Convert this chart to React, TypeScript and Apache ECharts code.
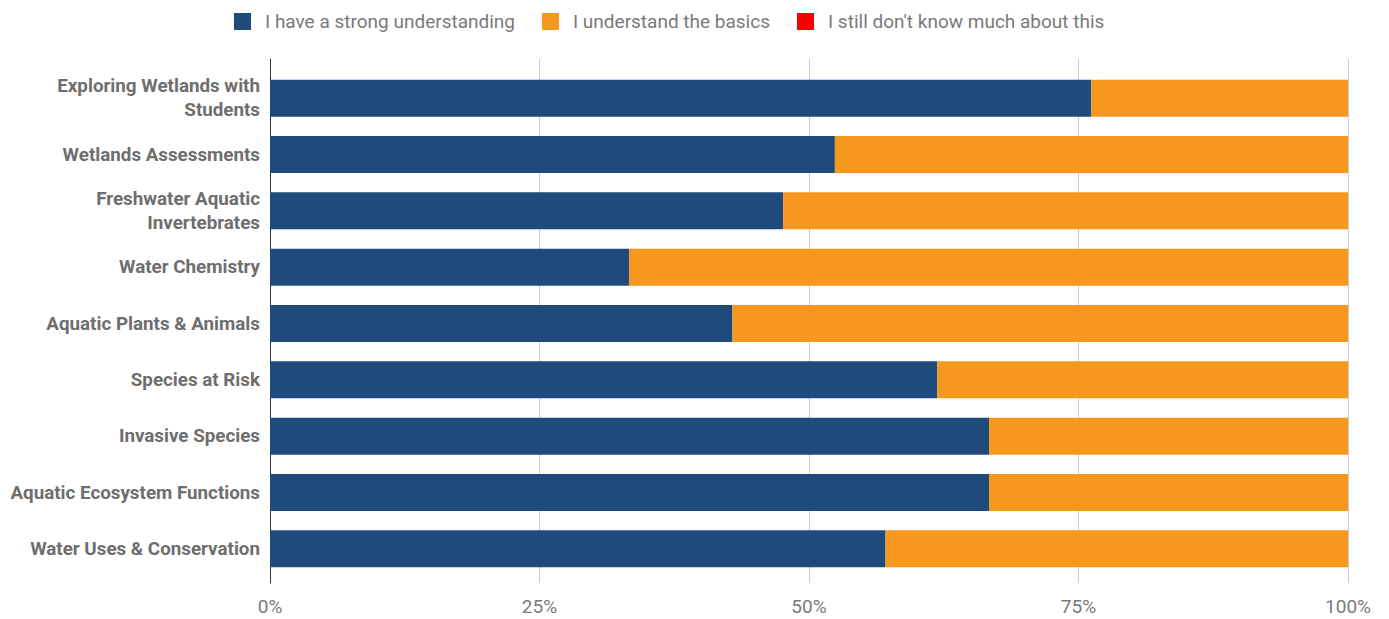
import React, { useEffect, useRef } from "react";
import * as echarts from "echarts";

const categories = [
  "Exploring Wetlands with\nStudents",
  "Wetlands Assessments",
  "Freshwater Aquatic\nInvertebrates",
  "Water Chemistry",
  "Aquatic Plants & Animals",
  "Species at Risk",
  "Invasive Species",
  "Aquatic Ecosystem Functions",
  "Water Uses & Conservation",
];
const seriesNames = [
  "I have a strong understanding",
  "I understand the basics",
  "I still don't know much about this",
];
// shares (percent)
const strong = [76.2, 52.4, 47.6, 33.3, 42.9, 61.9, 66.7, 66.7, 57.1];
const basics = [23.8, 47.6, 52.4, 66.7, 57.1, 38.1, 33.3, 33.3, 42.9];
const notMuch = [0, 0, 0, 0, 0, 0, 0, 0, 0];
const tickValues = [0, 25, 50, 75, 100];
const colors = ["#1f4a7c", "#f6981d", "#f90000"];

export default function App() {
  const ref = useRef<HTMLDivElement>(null);
  useEffect(() => {
    if (!ref.current) return;
    const chart = echarts.init(ref.current, undefined, { renderer: "svg" });
    const font = "Roboto";
    chart.setOption({
      animation: false,
      color: colors,
      textStyle: { fontFamily: font },
      legend: {
        top: 7,
        left: 229,
        itemWidth: 17,
        itemHeight: 17,
        itemGap: 27,
        icon: "rect",
        textStyle: { color: "#7a7a7a", fontSize: 19, fontFamily: font, padding: [0, 0, 0, 9] },
        data: seriesNames,
      },
      grid: [
        { left: 270, right: 41, top: 70, bottom: 42 },
        { left: 270, right: 41, top: 59, bottom: 36 },
      ],
      xAxis: [
        {
          gridIndex: 0,
          type: "value",
          min: 0,
          max: 100,
          show: false,
        },
        {
          gridIndex: 1,
          type: "value",
          min: 0,
          max: 100,
          interval: 25,
          axisLine: { show: false },
          axisTick: { show: false },
          splitLine: { show: true, lineStyle: { color: "#cccccc", width: 1 } },
          axisLabel: {
            color: "#7a7a7a",
            fontSize: 19,
            fontFamily: font,
            margin: 14,
            formatter: (v: number) => (tickValues.includes(v) ? v + "%" : ""),
          },
        },
      ],
      yAxis: [
        {
          gridIndex: 0,
          type: "category",
          data: categories,
          inverse: true,
          axisLine: { show: false },
          axisTick: { show: false },
          axisLabel: {
            color: "#6e6e6e",
            fontWeight: "bold",
            fontSize: 18.8,
            fontFamily: font,
            lineHeight: 24,
            margin: 10,
            align: "right",
          },
        },
        {
          gridIndex: 1,
          type: "value",
          min: 0,
          max: 1,
          axisLine: { show: true, lineStyle: { color: "#333333", width: 1 } },
          axisTick: { show: false },
          axisLabel: { show: false },
          splitLine: { show: false },
        },
      ],
      series: [
        { name: seriesNames[0], type: "bar", stack: "s", data: strong, barWidth: 37, xAxisIndex: 0, yAxisIndex: 0 },
        { name: seriesNames[1], type: "bar", stack: "s", data: basics, barWidth: 37, xAxisIndex: 0, yAxisIndex: 0 },
        { name: seriesNames[2], type: "bar", stack: "s", data: notMuch, barWidth: 37, xAxisIndex: 0, yAxisIndex: 0 },
      ],
    });
    return () => chart.dispose();
  }, []);
  return <div ref={ref} style={{ position: "absolute", left: 0, top: 0, width: 1389, height: 619 }} />;
}
